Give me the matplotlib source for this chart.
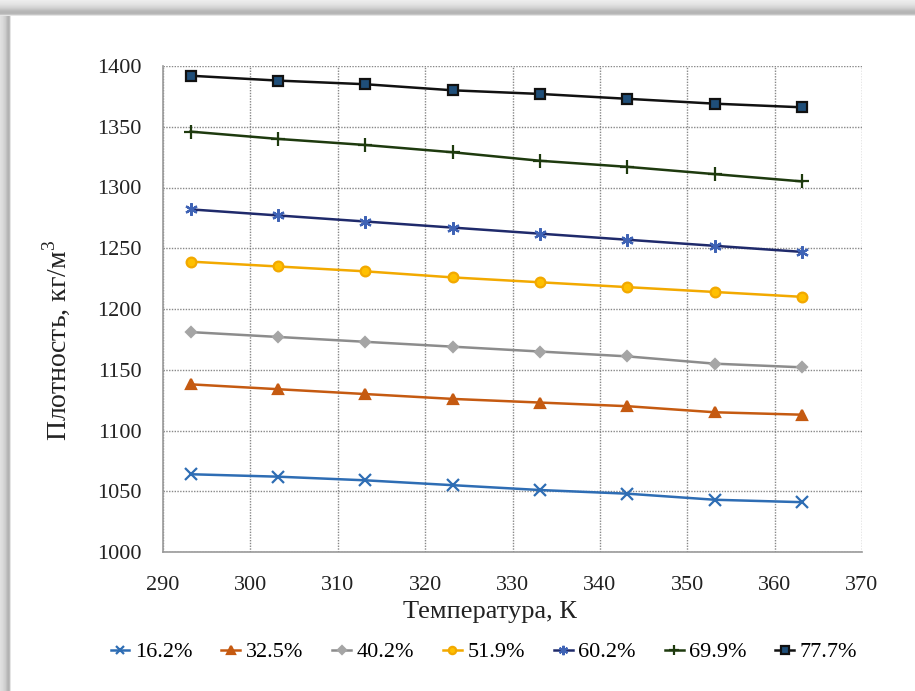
import numpy as np
import matplotlib
matplotlib.use('Agg')
import matplotlib.pyplot as plt

plt.rcParams['font.family'] = ['Liberation Serif', 'DejaVu Serif']
plt.rcParams['mathtext.fontset'] = 'custom'
plt.rcParams['mathtext.rm'] = 'Liberation Serif'

# ============================================================
# DATA
# ============================================================
temp = [293.15, 303.15, 313.15, 323.15, 333.15, 343.15, 353.15, 363.15]

labels = ['16.2%', '32.5%', '40.2%', '51.9%', '60.2%', '69.9%', '77.7%']

rho_162 = [1064, 1062, 1059, 1055, 1051, 1048, 1043, 1041]
rho_325 = [1138, 1134, 1130, 1126, 1123, 1120, 1115, 1113]
rho_402 = [1181, 1177, 1173, 1169, 1165, 1161, 1155, 1152]
rho_519 = [1239, 1235, 1231, 1226, 1222, 1218, 1214, 1210]
rho_602 = [1282, 1277, 1272, 1267, 1262, 1257, 1252, 1247]
rho_699 = [1346, 1340, 1335, 1329, 1322, 1317, 1311, 1305]
rho_777 = [1392, 1388, 1385, 1380, 1377, 1373, 1369, 1366]

series = [rho_162, rho_325, rho_402, rho_519, rho_602, rho_699, rho_777]

# line colour, marker, marker face, marker edge, marker size
styles = [
    ('#2E6DB4', 'x', '#2E6DB4', '#2E6DB4', 8),
    ('#C55A11', '^', '#C55A11', '#C55A11', 7),
    ('#8C8C8C', 'D', '#A5A5A5', '#A5A5A5', 5.5),
    ('#F2A900', 'o', '#FFC000', '#F2A900', 7),
    ('#1F2A6B', (6, 2, 0), '#3F63B5', '#3F63B5', 9),
    ('#1E3A0E', '+', '#1E3A0E', '#1E3A0E', 10),
    ('#111111', 's', '#1F4E79', '#111111', 7),
]

W, H = 915, 691
fig = plt.figure(figsize=(W / 100, H / 100), dpi=100)

# ============================================================
# FRAME (shadowed border around the picture)
# ============================================================
bg = np.ones((H, W, 3))
top = [0.93, 0.92, 0.91, 0.90, 0.89, 0.87, 0.85, 0.83, 0.80, 0.77, 0.74, 0.72, 0.71, 0.72, 0.78, 0.9]
for i, v in enumerate(top):
    bg[i, :, :] = v
left = [0.88, 0.87, 0.86, 0.84, 0.82, 0.80, 0.76, 0.72, 0.70, 0.74, 0.9]
for j, v in enumerate(left):
    bg[len(top):, j, :] = np.minimum(bg[len(top):, j, :], v)
bax = fig.add_axes([0, 0, 1, 1], zorder=-10)
bax.imshow(bg, aspect='auto', interpolation='nearest')
bax.axis('off')

# ============================================================
# CHART
# ============================================================
ax = fig.add_axes([163 / W, 1 - 552 / H, (862 - 163) / W, (552 - 66) / H])

handles = []
for y, lab, (lc, mk, mf, me, ms) in zip(series, labels, styles):
    h, = ax.plot(temp, y, color=lc, linewidth=1.8, marker=mk, markersize=ms,
                 markerfacecolor=mf, markeredgecolor=me, markeredgewidth=1.6,
                 label=lab, clip_on=False)
    handles.append(h)

ax.set_xlim(290, 370)
ax.set_ylim(1000, 1400)
ax.set_xticks(np.arange(290, 371, 10))
ax.set_yticks(np.arange(1000, 1401, 50))
ax.tick_params(length=0, labelsize=16, colors='#222222')
ax.tick_params(axis='y', pad=15.5)
ax.tick_params(axis='x', pad=17)
ax.grid(True, color='#888888', linestyle=(0, (1, 1)), linewidth=1.0)
ax.set_axisbelow(True)
for s in ['top', 'right']:
    ax.spines[s].set_visible(False)
for s in ['left', 'bottom']:
    ax.spines[s].set_color('#999999')
    ax.spines[s].set_linewidth(1.2)

fig.text(56 / W, 1 - 341 / H, 'Плотность, кг/м$^3$', rotation=90,
         ha='center', va='center', fontsize=20, color='#222222')
fig.text(490 / W, 1 - 612 / H, 'Температура, К', ha='center', va='center',
         fontsize=19, color='#222222')

fig.legend(handles=handles, loc='center', ncol=7,
           bbox_to_anchor=(484 / W, 1 - 652 / H), frameon=False,
           fontsize=16, handlelength=0.85, handletextpad=0.25,
           columnspacing=1.3, borderaxespad=0, markerscale=0.75)

fig.savefig('out.png', dpi=100)
